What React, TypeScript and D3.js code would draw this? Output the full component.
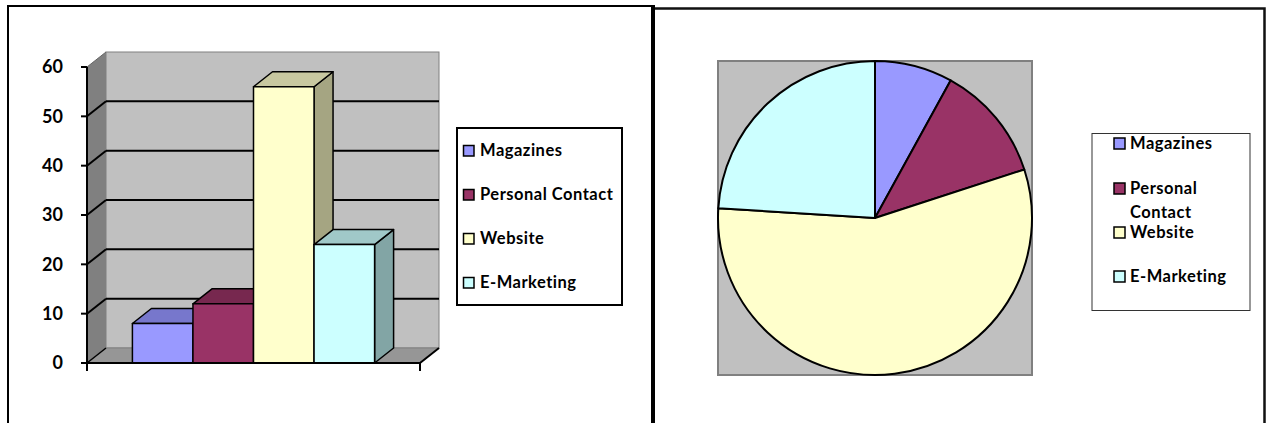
import React from 'react';
import * as d3 from 'd3';

const CATEGORIES = ['Magazines', 'Personal Contact', 'Website', 'E-Marketing'];
const VALUES = [8, 12, 56, 24];
const Y_TICKS = [0, 10, 20, 30, 40, 50, 60];

const FRONT: Record<string, string> = {
  'Magazines': '#9999FF',
  'Personal Contact': '#993366',
  'Website': '#FFFFCC',
  'E-Marketing': '#CCFFFF',
};
const TOP: Record<string, string> = {
  'Magazines': '#7777CC',
  'Personal Contact': '#77284F',
  'Website': '#C8C8A0',
  'E-Marketing': '#A0C8C8',
};
const SIDE: Record<string, string> = {
  'Magazines': '#6B6BB3',
  'Personal Contact': '#6B2347',
  'Website': '#A5A582',
  'E-Marketing': '#82A5A5',
};

const W = 1266;
const H = 423;
const FONT = 'Lato, "Open Sans", sans-serif';
const LEGEND_FS = 16.5;
const LEGEND_LS = 0.5;

// 3D depth offset
const DX = 19;
const DY = -15;

const X0 = 87;
const X1 = 420;

const y = d3.scaleLinear().domain([0, 60]).range([363, 67]);
const x = d3.scaleBand<string>().domain(CATEGORIES).range([X0, X1]).paddingInner(0).paddingOuter(0.75);

const pts = (p: [number, number][]) => p.map((q) => q.join(',')).join(' ');

function BarChart() {
  const y0 = y(0);
  const yTop = y(60);
  return (
    <g>
      {/* side wall */}
      <polygon points={pts([[X0, y0], [X0, yTop], [X0 + DX, yTop + DY], [X0 + DX, y0 + DY]])} fill="#808080" />
      {/* back wall */}
      <rect x={X0 + DX} y={yTop + DY} width={X1 - X0} height={y0 - yTop} fill="#C0C0C0" stroke="#808080" strokeWidth={1} />
      {/* floor */}
      <polygon points={pts([[X0, y0], [X1, y0], [X1 + DX, y0 + DY], [X0 + DX, y0 + DY]])} fill="#969696" stroke="#808080" strokeWidth={1} />
      <line x1={X0} y1={yTop} x2={X0 + DX} y2={yTop + DY} stroke="#666" strokeWidth={1} />
      {Y_TICKS.filter((t) => t > 0 && t < 60).map((t) => (
        <g key={t}>
          <line x1={X0 + DX} x2={X1 + DX} y1={y(t) + DY} y2={y(t) + DY} stroke="#000" strokeWidth={2} />
          <line x1={X0} x2={X0 + DX} y1={y(t)} y2={y(t) + DY} stroke="#000" strokeWidth={2} />
        </g>
      ))}
      <line x1={X0} x2={X0 + DX} y1={y0} y2={y0 + DY} stroke="#000" strokeWidth={1.5} />
      <line x1={X1} x2={X1 + DX} y1={y0} y2={y0 + DY} stroke="#000" strokeWidth={2} />

      {CATEGORIES.map((c, i) => {
        const bx0 = x(c) ?? 0;
        const bx1 = bx0 + x.bandwidth();
        const yv = y(VALUES[i]);
        return (
          <g key={c} stroke="#000" strokeWidth={1.5} strokeLinejoin="round">
            <polygon points={pts([[bx1, yv], [bx1 + DX, yv + DY], [bx1 + DX, y0 + DY], [bx1, y0]])} fill={SIDE[c]} />
            <polygon points={pts([[bx0, yv], [bx0 + DX, yv + DY], [bx1 + DX, yv + DY], [bx1, yv]])} fill={TOP[c]} />
            <rect x={bx0} y={yv} width={bx1 - bx0} height={y0 - yv} fill={FRONT[c]} />
          </g>
        );
      })}

      {/* axes */}
      <line x1={X0} x2={X0} y1={yTop} y2={y0} stroke="#000" strokeWidth={2} />
      <line x1={X0} x2={X1} y1={y0} y2={y0} stroke="#000" strokeWidth={2} />
      <line x1={X0} x2={X0} y1={y0} y2={y0 + 8} stroke="#000" strokeWidth={2} />
      <line x1={X1} x2={X1} y1={y0} y2={y0 + 8} stroke="#000" strokeWidth={2} />
      {Y_TICKS.map((t) => (
        <g key={t}>
          <line x1={X0 - 6} x2={X0} y1={y(t)} y2={y(t)} stroke="#000" strokeWidth={2} />
          <text x={63} y={y(t)} dy="0.36em" textAnchor="end" fontFamily={FONT} fontWeight={700} fontSize={18}>
            {t}
          </text>
        </g>
      ))}

      {/* legend */}
      <rect x={457} y={128} width={165} height={177} fill="#fff" stroke="#000" strokeWidth={2} />
      {CATEGORIES.map((c, i) => {
        const by = 156 + i * 44;
        return (
          <g key={c}>
            <rect x={463.5} y={by - 10.5} width={10.5} height={10.5} fill={FRONT[c]} stroke="#000" strokeWidth={1.5} />
            <text x={480} y={by} fontFamily={FONT} fontWeight={700} fontSize={LEGEND_FS} letterSpacing={LEGEND_LS}>{c}</text>
          </g>
        );
      })}
    </g>
  );
}

const PIE_CX = 875;
const PIE_CY = 218;
const PIE_R = 157;

function PieChart() {
  const pie = d3.pie<number>().sort(null).value((v) => v);
  const arcs = pie(VALUES);
  const arc = d3.arc<d3.PieArcDatum<number>>().innerRadius(0).outerRadius(PIE_R);
  const legendY = [149, 194, 238, 282];
  return (
    <g>
      <rect x={PIE_CX - PIE_R} y={PIE_CY - PIE_R} width={PIE_R * 2} height={PIE_R * 2} fill="#C0C0C0" stroke="#808080" strokeWidth={2} />
      <g transform={`translate(${PIE_CX},${PIE_CY})`}>
        {arcs.map((a, i) => (
          <path key={CATEGORIES[i]} d={arc(a) ?? ''} fill={FRONT[CATEGORIES[i]]} stroke="#000" strokeWidth={2} strokeLinejoin="round" />
        ))}
      </g>

      <rect x={1092} y={133.5} width={158} height={177} fill="#fff" stroke="#333" strokeWidth={1} />
      {CATEGORIES.map((c, i) => {
        const by = legendY[i];
        const words = c === 'Personal Contact' ? ['Personal', 'Contact'] : [c];
        return (
          <g key={c}>
            <rect x={1114} y={by - 11} width={11} height={11} fill={FRONT[c]} stroke="#000" strokeWidth={1.5} />
            <text x={1130} y={by} fontFamily={FONT} fontWeight={700} fontSize={LEGEND_FS} letterSpacing={LEGEND_LS}>
              {words.map((w, k) => (
                <tspan key={w} x={1130} dy={k === 0 ? 0 : 24}>{w}</tspan>
              ))}
            </text>
          </g>
        );
      })}
    </g>
  );
}

export default function App() {
  return (
    <svg width={W} height={H} viewBox={`0 0 ${W} ${H}`} style={{ position: 'absolute', left: 0, top: 0, background: '#fff' }}>
      {/* panel frames */}
      <path d={`M8,${H} V6 H653`} fill="none" stroke="#000" strokeWidth={2} />
      <line x1={653} x2={653} y1={5} y2={H} stroke="#000" strokeWidth={4} />
      <path d={`M655,8.5 H1264.5 V${H}`} fill="none" stroke="#111" strokeWidth={2.5} />
      <BarChart />
      <PieChart />
    </svg>
  );
}
